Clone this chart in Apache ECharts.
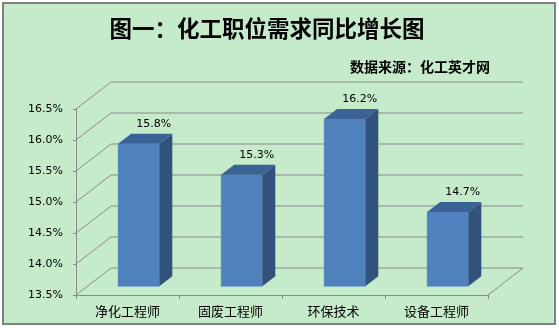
<!DOCTYPE html>
<html>
<head>
<meta charset="utf-8">
<script src="https://cdn.jsdelivr.net/npm/echarts@6/dist/echarts.min.js"></script>
<style>
html,body{margin:0;padding:0;background:#ffffff;}
#chart{width:559px;height:328px;}
</style>
</head>
<body>
<div id="chart"></div>
<script>
var categories = ['净化工程师', '固废工程师', '环保技术', '设备工程师'];
var values = [15.8, 15.3, 16.2, 14.7];
var yTicks = [13.5, 14.0, 14.5, 15.0, 15.5, 16.0, 16.5];
var titleText = '图一：化工职位需求同比增长图';
var sourceText = '数据来源：化工英才网';

var Y_MIN = 13.5, Y_MAX = 16.5, Y_STEP = 0.5;
var DX = 35, DY = -27;          // wall depth in pixels
var F1 = 0.32;                  // bar front depth fraction
var BDX = 13, BDY = -10;        // bar depth in pixels
var GRID_COLOR = '#8a8a8a';

var chart = echarts.init(document.getElementById('chart'), null, {renderer: 'canvas'});

function renderGrid(params, api) {
  var cs = params.coordSys;
  var v = api.value(0);
  var p = api.coord([0, v]);
  var y = p[1];
  var x0 = cs.x, x1 = cs.x + cs.width;
  var children = [{
    type: 'polyline',
    shape: {points: [[x0, y], [x0 + DX, y + DY], [x1 + DX, y + DY]]},
    style: {stroke: GRID_COLOR, lineWidth: 1, fill: null}
  }];
  if (v === Y_MIN) {
    children.push({
      type: 'line',
      shape: {x1: x1, y1: y, x2: x1 + DX, y2: y + DY},
      style: {stroke: GRID_COLOR, lineWidth: 1}
    });
  }
  return {type: 'group', children: children};
}

function renderBar(params, api) {
  var idx = api.value(0);
  var val = api.value(1);
  var top = api.coord([idx, val]);
  var base = api.coord([idx, Y_MIN]);
  var band = api.size([1, 0])[0];
  var w = band * 0.4;
  var ox = F1 * DX, oy = F1 * DY;
  var x0 = top[0] - w / 2 + ox, x1 = x0 + w;
  var yT = top[1] + oy, yB = base[1] + oy;
  return {
    type: 'group',
    children: [
      {type: 'rect', shape: {x: x0, y: yT, width: w, height: yB - yT},
       style: {fill: '#4F81BD', stroke: '#5b8cc6', lineWidth: 0.5}},
      {type: 'polygon', shape: {points: [[x1, yT], [x1 + BDX, yT + BDY], [x1 + BDX, yB + BDY], [x1, yB]]},
       style: {fill: '#31527c'}},
      {type: 'polygon', shape: {points: [[x0, yT], [x0 + BDX, yT + BDY], [x1 + BDX, yT + BDY], [x1, yT]]},
       style: {fill: '#3b6294'}},
      {type: 'text', x: (x0 + x1) / 2 + 15, y: yT + BDY - 4,
       style: {text: val.toFixed(1) + '%', fill: '#000', font: '11px "DejaVu Sans"', align: 'center', verticalAlign: 'bottom'}}
    ]
  };
}

var option = {
  animation: false,
  backgroundColor: '#ffffff',
  graphic: [{
    type: 'rect', z: -10, silent: true,
    shape: {x: 3, y: 3, width: 552, height: 321},
    style: {fill: '#C6EBCB', stroke: '#808080', lineWidth: 2}
  }],
  title: [{
    text: titleText, left: 262, top: 12, textAlign: 'center',
    textStyle: {fontFamily: '"Noto Sans CJK SC"', fontSize: 22.5, fontWeight: 'bold', color: '#000'}
  }, {
    text: sourceText, right: 64, top: 55,
    textStyle: {fontFamily: '"Noto Sans CJK SC"', fontSize: 14, fontWeight: 'bold', color: '#000'}
  }],
  grid: {left: 76, right: 71, top: 109, bottom: 33, containLabel: false},
  xAxis: {
    type: 'category', data: categories,
    axisLine: {lineStyle: {color: GRID_COLOR, width: 1}},
    axisTick: {show: true, length: 4, lineStyle: {color: GRID_COLOR}},
    axisLabel: {color: '#000', fontSize: 13, fontFamily: '"Noto Sans CJK SC"', margin: 10},
    splitLine: {show: false}
  },
  yAxis: {
    type: 'value', min: Y_MIN, max: Y_MAX, interval: Y_STEP,
    axisLine: {show: true, lineStyle: {color: GRID_COLOR, width: 1}},
    axisTick: {show: true, length: 3, lineStyle: {color: GRID_COLOR}},
    axisLabel: {color: '#000', fontSize: 11, fontFamily: '"DejaVu Sans"', margin: 13,
      formatter: function (v) { return v.toFixed(1) + '%'; }},
    splitLine: {show: false}
  },
  series: [{
    type: 'custom', z: 1, silent: true,
    data: yTicks.map(function (v) { return [v]; }),
    encode: {y: 0},
    renderItem: renderGrid
  }, {
    type: 'custom', z: 2,
    data: values.map(function (v, i) { return [i, v]; }),
    encode: {x: 0, y: 1},
    renderItem: renderBar
  }]
};
chart.setOption(option);
</script>
</body>
</html>
